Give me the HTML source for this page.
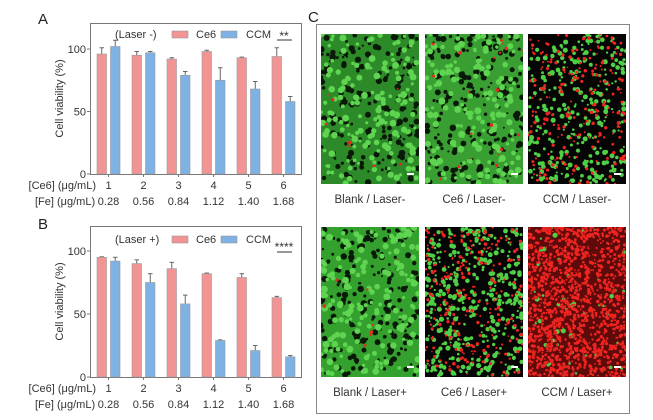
<!DOCTYPE html>
<html><head><meta charset="utf-8"><style>
html,body{margin:0;padding:0;background:#fff;width:653px;height:420px;overflow:hidden}
svg{display:block;font-family:"Liberation Sans",sans-serif}
</style></head><body>
<svg id="fig" width="653" height="420" viewBox="0 0 653 420">
<text x="38" y="24" font-size="15" fill="#222">A</text>
<text x="38" y="229" font-size="15" fill="#222">B</text>
<text x="308" y="22" font-size="15" fill="#222">C</text>
<rect x="316.5" y="24.5" width="313" height="389" fill="none" stroke="#888" stroke-width="1"/>
<g id="chartA"></g>
<g id="chartB"></g>
<g id="images"></g>
</svg>
<script>
const categoriesCe6 = ["1","2","3","4","5","6"];
const categoriesFe = ["0.28","0.56","0.84","1.12","1.40","1.68"];
const yTicks = [0,50,100];
const ce6A = [96,95,92,98,93,94];
const ce6AErr = [5,3,1,1,0.5,7];
const ccmA = [102,97,79,75,68,58];
const ccmAErr = [5,1,3,10,6,4];
const ce6B = [95,90,86,82,79,63];
const ce6BErr = [0.4,3,5,0.5,3,1];
const ccmB = [92,75,58,29,21,16];
const ccmBErr = [3,7,7,0.5,4,1];

const NS="http://www.w3.org/2000/svg";
function mk(tag,attrs,parent){const e=document.createElementNS(NS,tag);for(const k in attrs)e.setAttribute(k,attrs[k]);parent.appendChild(e);return e;}

function drawChart(g, top, bottom, y100, ce6, ce6Err, ccm, ccmErr, laserText, stars, legendY){
  const left=90, right=301;
  const ys=v=>bottom-(bottom-y100)*v/100;
  const xg=i=>97+i*35;
  const frame=mk('rect',{x:left+0.5,y:top+0.5,width:right-left,height:bottom-top,fill:'none',stroke:'#777','stroke-width':1},g);
  
  
  yTicks.forEach(t=>{
    const y=ys(t);
    const tl=mk('line',{x1:left-3,x2:left,y1:y,y2:y,stroke:'#777'},g);
    
    
    const tx=mk('text',{x:left-4,y:y+4,'font-size':11,fill:'#333','text-anchor':'end'},g);
    tx.textContent=t;
    
    
  });
  const yt=mk('text',{x:0,y:0,'font-size':11,fill:'#333','text-anchor':'middle',transform:`translate(63,${(top+bottom)/2}) rotate(-90)`},g);
  yt.textContent='Cell viability (%)';
  
  
  function bar(i,x,v,e,fill,name){
    const y=ys(v), ye=ys(v+e);
    const el=mk('line',{x1:x+4.75,x2:x+4.75,y1:y,y2:ye,stroke:'#666','stroke-width':1},g);
    
    
    const cap=mk('line',{x1:x+2.5,x2:x+7,y1:ye,y2:ye,stroke:'#666','stroke-width':1},g);
    
    
    const r=mk('rect',{x:x,y:y,width:9.5,height:bottom-y,fill:fill,stroke:'#999','stroke-width':0.6},g);
    
    
  }
  categoriesCe6.forEach((c,i)=>{
    bar(i,xg(i),ce6[i],ce6Err[i],'#f29494','bar-ce6');
    bar(i,xg(i)+13.5,ccm[i],ccmErr[i],'#7eb2e4','bar-ccm');
    const cx=xg(i)+11.5;
    const tk=mk('line',{x1:cx,x2:cx,y1:bottom,y2:bottom+3,stroke:'#777'},g);
    
    
    const t1=mk('text',{x:cx,y:bottom+15,'font-size':11,fill:'#333','text-anchor':'middle'},g);
    t1.textContent=c;
    
    
    const t2=mk('text',{x:cx,y:bottom+31,'font-size':11,fill:'#333','text-anchor':'middle'},g);
    t2.textContent=categoriesFe[i];
    
    
  });
  const r1=mk('text',{x:96,y:bottom+15,'font-size':11,fill:'#333','text-anchor':'end'},g);
  r1.textContent='[Ce6] (μg/mL)';
  
  
  const r2=mk('text',{x:35,y:bottom+31,'font-size':11,fill:'#333'},g);
  r2.textContent='[Fe]  (μg/mL)';
  
  
  const lt=mk('text',{x:115,y:legendY+4,'font-size':11,fill:'#333'},g);
  lt.textContent=laserText;
  
  
  const s1=mk('rect',{x:172,y:legendY-3,width:16,height:7,fill:'#f29494',stroke:'#999','stroke-width':0.6},g);
  
  
  const l1=mk('text',{x:196,y:legendY+4,'font-size':11,fill:'#333'},g);
  l1.textContent='Ce6';
  
  
  const s2=mk('rect',{x:221,y:legendY-3,width:16,height:7,fill:'#7eb2e4',stroke:'#999','stroke-width':0.6},g);
  
  
  const l2=mk('text',{x:246,y:legendY+4,'font-size':11,fill:'#333'},g);
  l2.textContent='CCM';
  
  
  const st=mk('text',{x:284,y:legendY+(stars.length>2?12:6),'font-size':12,fill:'#333','text-anchor':'middle'},g);
  st.textContent=stars;
  
  
  const sl=mk('line',{x1:277,x2:292,y1:legendY+(stars.length>2?13:6),y2:legendY+(stars.length>2?13:6),stroke:'#333'},g);
  
  
}
drawChart(document.getElementById('chartA'),23,174,49,ce6A,ce6AErr,ccmA,ccmAErr,'(Laser -)','**',34);
drawChart(document.getElementById('chartB'),226,377,251,ce6B,ce6BErr,ccmB,ccmBErr,'(Laser +)','****',239);

// microscopy textures
let seed=12345;
function rnd(){seed=(seed*1103515245+12345)%2147483648;return seed/2147483648;}
const ig=document.getElementById('images');
const panels=[
 {x:321,y:34,name:'blank-laser-minus',label:'Blank / Laser-',bg:'#2c8a28',dark:200,green:0,red:8},
 {x:425,y:34,name:'ce6-laser-minus',label:'Ce6 / Laser-',bg:'#3a9f33',dark:220,green:0,red:20},
 {x:528,y:34,name:'ccm-laser-minus',label:'CCM / Laser-',bg:'#050505',dark:0,green:300,red:240},
 {x:321,y:227,name:'blank-laser-plus',label:'Blank / Laser+',bg:'#34a02e',dark:200,green:0,red:8},
 {x:425,y:227,name:'ce6-laser-plus',label:'Ce6 / Laser+',bg:'#050505',dark:0,green:420,red:260},
 {x:528,y:227,name:'ccm-laser-plus',label:'CCM / Laser+',bg:'#5c0a0a',dark:0,green:50,red:1300}
];
const W=98,H=150;
panels.forEach((p,idx)=>{
  const g=mk('g',{},ig);
  
  
  const cp=mk('clipPath',{id:'cp'+idx},g);
  mk('rect',{x:p.x,y:p.y,width:W,height:H},cp);
  const inner=mk('g',{'clip-path':'url(#cp'+idx+')'},g);
  mk('rect',{x:p.x,y:p.y,width:W,height:H,fill:p.bg},inner);
  for(let i=0;i<p.dark;i++) mk('circle',{cx:p.x+rnd()*W,cy:p.y+rnd()*H,r:1+rnd()*2.3,fill:'#0a1a08'},inner);
  if(p.dark) for(let i=0;i<160;i++) mk('circle',{cx:p.x+rnd()*W,cy:p.y+rnd()*H,r:1.5+rnd()*2,fill:'#5ed450'},inner);
  for(let i=0;i<p.green;i++) mk('circle',{cx:p.x+rnd()*W,cy:p.y+rnd()*H,r:1+rnd()*1.6,fill:'#4fcf45'},inner);
  for(let i=0;i<p.red;i++) mk('circle',{cx:p.x+rnd()*W,cy:p.y+rnd()*H,r:0.8+rnd()*1,fill:'#ee2420'},inner);
  const sb=mk('rect',{x:p.x+W-12,y:p.y+H-11,width:7,height:2,fill:'#fff'},g);
  
  
  const t=mk('text',{x:p.x+W/2,y:p.y+H+19,'font-size':11.5,fill:'#333','text-anchor':'middle'},g);
  t.textContent=p.label;
  
  
});
</script>
</body></html>
